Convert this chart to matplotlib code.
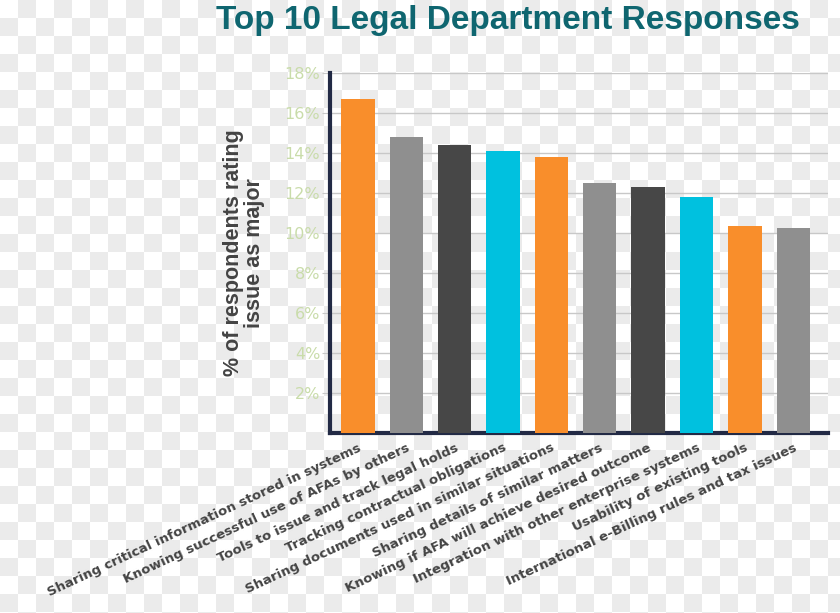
import numpy as np
import matplotlib
matplotlib.use("Agg")
import matplotlib.pyplot as plt

# data
categories = [
    "Sharing critical information stored in systems",
    "Knowing successful use of AFAs by others",
    "Tools to issue and track legal holds",
    "Tracking contractual obligations",
    "Sharing documents used in similar situations",
    "Sharing details of similar matters",
    "Knowing if AFA will achieve desired outcome",
    "Integration with other enterprise systems",
    "Usability of existing tools",
    "International e-Billing rules and tax issues",
]
values = [16.7, 14.8, 14.4, 14.1, 13.8, 12.5, 12.3, 11.8, 10.35, 10.25]
yticks = [2, 4, 6, 8, 10, 12, 14, 16, 18]

palette = ["#f98e2b", "#8f8f8f", "#474747", "#00c1df"]
colors = [palette[i % 4] for i in range(len(values))]

W, H = 840, 613
fig = plt.figure(figsize=(W / 100, H / 100), dpi=100)

# checkerboard backdrop (the original is a "transparent" png)
yy, xx = np.mgrid[0:H, 0:W]
chk = ((xx // 18 + yy // 18) % 2).astype(float)
bg = np.where(chk[..., None] == 1, 0.922, 1.0) * np.ones((H, W, 3))
fig.figimage(bg, xo=0, yo=0, origin="upper", zorder=-10)

ax = fig.add_axes([330 / W, 1 - 433 / H, (828 - 330) / W, (433 - 73) / H])
ax.patch.set_alpha(0)

x = np.arange(len(values))
ax.bar(x, values, width=0.69, color=colors, zorder=3)

ax.set_xlim(-0.58, 9.72)
ax.set_ylim(0, 18)
ax.set_yticks(yticks)
ax.set_yticklabels([f"{v}%" for v in yticks], color="#c9dcaa",
                   fontsize=11.5, fontfamily="DejaVu Sans")
ax.yaxis.grid(True, color="#c8c8c8", linewidth=1, zorder=1)
ax.tick_params(axis="y", length=6, color="#c8c8c8", pad=1)

ax.set_xticks(x)
ax.set_xticklabels(categories, rotation=25, ha="right", va="top",
                   rotation_mode="anchor", fontsize=9.5, color="#444444",
                   fontfamily="DejaVu Sans", fontweight="bold")
ax.tick_params(axis="x", length=0, pad=6)

for s in ["top", "right"]:
    ax.spines[s].set_visible(False)
for s in ["left", "bottom"]:
    ax.spines[s].set_color("#222a45")
    ax.spines[s].set_linewidth(3)

ax.set_ylabel("% of respondents rating\nissue as major", fontsize=15.5,
              color="#444444", fontfamily="Liberation Sans", fontweight="bold",
              labelpad=14, linespacing=1.0)

fig.text(508 / W, 1 - 20 / H, "Top 10 Legal Department Responses",
         ha="center", va="center", fontsize=24, color="#0f6670",
         fontfamily="Liberation Sans", fontweight="bold")

fig.savefig("out.png", dpi=100)
